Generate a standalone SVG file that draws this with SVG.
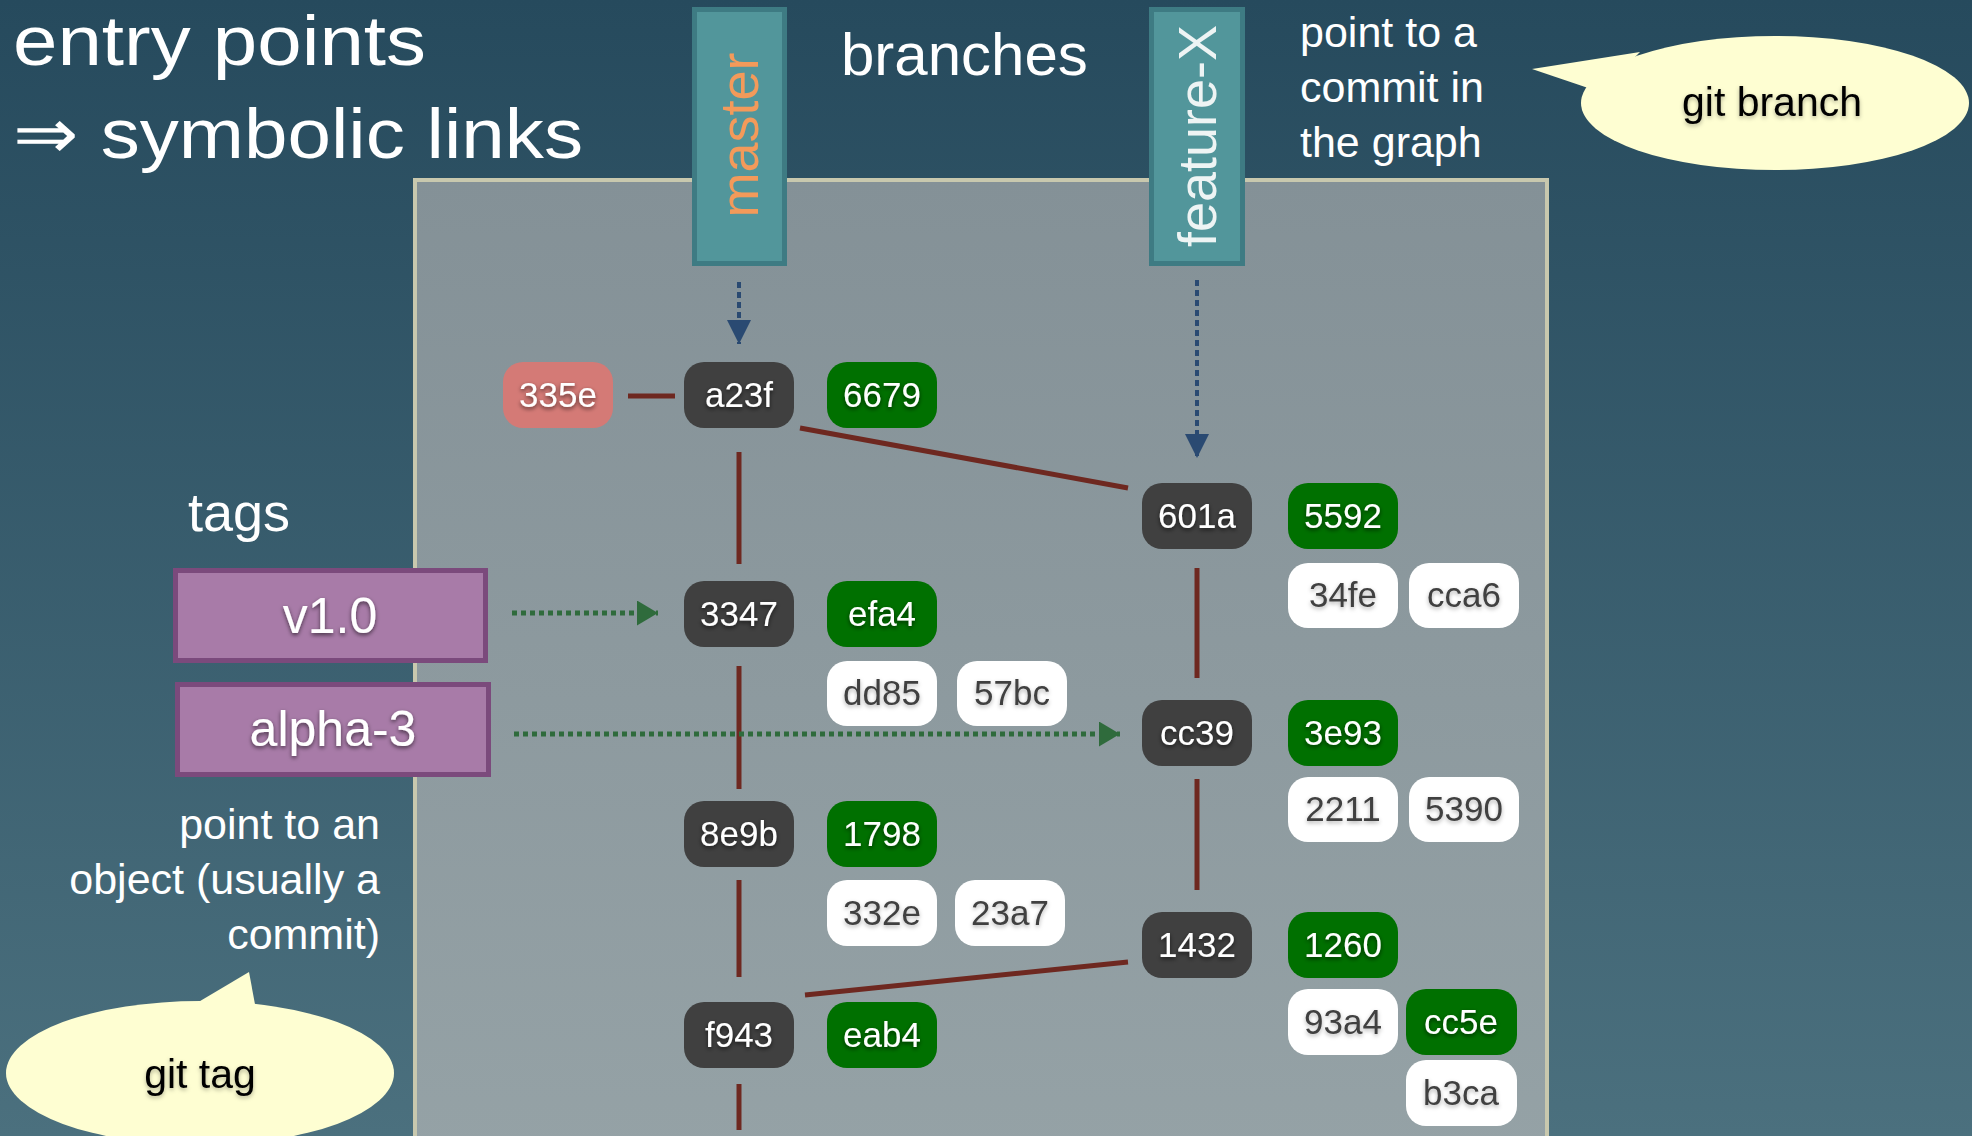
<svg xmlns="http://www.w3.org/2000/svg" width="1972" height="1136" viewBox="0 0 1972 1136">
<defs>
<linearGradient id="bg" x1="0" y1="0" x2="0" y2="1">
<stop offset="0" stop-color="#264a5d"/>
<stop offset="1" stop-color="#4b707e"/>
</linearGradient>
<linearGradient id="pg" x1="0" y1="0" x2="0" y2="1">
<stop offset="0" stop-color="#849197"/>
<stop offset="1" stop-color="#95a2a6"/>
</linearGradient>
<filter id="sh" x="-20%" y="-30%" width="140%" height="170%">
<feDropShadow dx="0" dy="2" stdDeviation="2" flood-color="#000" flood-opacity="0.6"/>
</filter>
<filter id="shl" x="-20%" y="-30%" width="140%" height="170%">
<feDropShadow dx="0" dy="2" stdDeviation="2" flood-color="#000" flood-opacity="0.3"/>
</filter>
<marker id="ab" markerWidth="6" markerHeight="6" refX="6" refY="3" orient="auto" markerUnits="strokeWidth">
<path d="M0,0 L6,3 L0,6 Z" fill="#2a4a72"/>
</marker>
<marker id="ag" markerWidth="5" markerHeight="5" refX="4.2" refY="2.5" orient="auto" markerUnits="strokeWidth">
<path d="M0,0 L4.2,2.5 L0,5 Z" fill="#2f6b3c"/>
</marker>
</defs>
<style>
.t{font-family:"Liberation Sans",Arial,sans-serif;}
.title{font-size:70px;fill:#ffffff;}
.lbl{font-size:43px;fill:#ffffff;}
.c rect{fill:#404040;}
.g rect{fill:#007000;}
.w rect{fill:#ffffff;}
.p rect{fill:#d47a76;}
.n text{font-family:"Liberation Sans",Arial,sans-serif;font-size:35px;text-anchor:middle;fill:#ffffff;filter:url(#sh);}
.w text{fill:#404040;filter:url(#shl);}
.edge{stroke:#6e2820;stroke-width:5;fill:none;}
.bdot{stroke:#2a4a72;stroke-width:4;stroke-dasharray:6 4;fill:none;}
.gdot{stroke:#2f6b3c;stroke-width:5;stroke-dasharray:5 4;fill:none;}
.br rect{fill:#52969b;stroke:#3e7b83;stroke-width:5;}
.tag rect{fill:#a87ba8;stroke:#7b4a7c;stroke-width:5;}
.tag text{font-family:"Liberation Sans",Arial,sans-serif;font-size:50px;fill:#ffffff;text-anchor:middle;filter:url(#sh);}
.bub path,.bub ellipse{fill:#fefed2;}
.bub text{font-family:"Liberation Sans",Arial,sans-serif;font-size:41px;fill:#000;text-anchor:middle;filter:url(#shl);}
</style>
<rect x="0" y="0" width="1972" height="1136" fill="url(#bg)"/>
<rect id="panel" x="415" y="180" width="1132" height="980" fill="url(#pg)" stroke="#c8c8ae" stroke-width="4"/>

<g id="titles" class="t">
<text class="title" x="13" y="65" textLength="413" lengthAdjust="spacingAndGlyphs">entry points</text>
<text class="title" x="13" y="158" textLength="570" lengthAdjust="spacingAndGlyphs">⇒ symbolic links</text>
<text x="841" y="75" font-size="60" fill="#ffffff">branches</text>
<text x="188" y="531" font-size="54" fill="#ffffff">tags</text>
<text class="lbl" x="1300" y="47">point to a</text>
<text class="lbl" x="1300" y="102">commit in</text>
<text class="lbl" x="1300" y="157">the graph</text>
<text class="lbl" x="380" y="839" text-anchor="end">point to an</text>
<text class="lbl" x="380" y="894" text-anchor="end">object (usually a</text>
<text class="lbl" x="380" y="949" text-anchor="end">commit)</text>
</g>

<g id="branch-master" class="br">
<rect x="694.5" y="9.5" width="90" height="254"/>
<text class="t" transform="translate(758,135) rotate(-90)" font-size="54" fill="#f39a5a" text-anchor="middle">master</text>
</g>
<g id="branch-feature-X" class="br">
<rect x="1151.5" y="9.5" width="91" height="254"/>
<text class="t" transform="translate(1216,136) rotate(-90)" font-size="54" fill="#eef4f4" text-anchor="middle">feature-X</text>
</g>

<g id="tag-v1.0" class="tag">
<rect x="175.5" y="570.5" width="310" height="90"/>
<text x="330" y="633">v1.0</text>
</g>
<g id="tag-alpha-3" class="tag">
<rect x="177.5" y="684.5" width="311" height="90"/>
<text x="333" y="746">alpha-3</text>
</g>

<g id="connectors">
<line class="edge" x1="628" y1="396" x2="675" y2="396"/>
<line class="edge" x1="800" y1="428" x2="1128" y2="488"/>
<line class="edge" x1="739" y1="452" x2="739" y2="564"/>
<line class="edge" x1="739" y1="666" x2="739" y2="789"/>
<line class="edge" x1="739" y1="880" x2="739" y2="977"/>
<line class="edge" x1="739" y1="1084" x2="739" y2="1130"/>
<line class="edge" x1="805" y1="995" x2="1128" y2="962"/>
<line class="edge" x1="1197" y1="568" x2="1197" y2="678"/>
<line class="edge" x1="1197" y1="779" x2="1197" y2="890"/>
<line class="bdot" x1="739" y1="282" x2="739" y2="344" marker-end="url(#ab)"/>
<line class="bdot" x1="1197" y1="280" x2="1197" y2="458" marker-end="url(#ab)"/>
<line class="gdot" x1="512" y1="613" x2="658" y2="613" marker-end="url(#ag)"/>
<line class="gdot" x1="514" y1="734" x2="1120" y2="734" marker-end="url(#ag)"/>
</g>

<g id="n-335e" class="n p"><rect x="503" y="362" width="110" height="66" rx="20"/><text x="558" y="407">335e</text></g>
<g id="n-a23f" class="n c"><rect x="684" y="362" width="110" height="66" rx="20"/><text x="739" y="407">a23f</text></g>
<g id="n-6679" class="n g"><rect x="827" y="362" width="110" height="66" rx="20"/><text x="882" y="407">6679</text></g>

<g id="n-3347" class="n c"><rect x="684" y="581" width="110" height="66" rx="20"/><text x="739" y="626">3347</text></g>
<g id="n-efa4" class="n g"><rect x="827" y="581" width="110" height="66" rx="20"/><text x="882" y="626">efa4</text></g>
<g id="n-dd85" class="n w"><rect x="827" y="661" width="110" height="65" rx="20"/><text x="882" y="705">dd85</text></g>
<g id="n-57bc" class="n w"><rect x="957" y="661" width="110" height="65" rx="20"/><text x="1012" y="705">57bc</text></g>

<g id="n-8e9b" class="n c"><rect x="684" y="801" width="110" height="66" rx="20"/><text x="739" y="846">8e9b</text></g>
<g id="n-1798" class="n g"><rect x="827" y="801" width="110" height="66" rx="20"/><text x="882" y="846">1798</text></g>
<g id="n-332e" class="n w"><rect x="827" y="880" width="110" height="66" rx="20"/><text x="882" y="925">332e</text></g>
<g id="n-23a7" class="n w"><rect x="955" y="880" width="110" height="66" rx="20"/><text x="1010" y="925">23a7</text></g>

<g id="n-f943" class="n c"><rect x="684" y="1002" width="110" height="66" rx="20"/><text x="739" y="1047">f943</text></g>
<g id="n-eab4" class="n g"><rect x="827" y="1002" width="110" height="66" rx="20"/><text x="882" y="1047">eab4</text></g>

<g id="n-601a" class="n c"><rect x="1142" y="483" width="110" height="66" rx="20"/><text x="1197" y="528">601a</text></g>
<g id="n-5592" class="n g"><rect x="1288" y="483" width="110" height="66" rx="20"/><text x="1343" y="528">5592</text></g>
<g id="n-34fe" class="n w"><rect x="1288" y="563" width="110" height="65" rx="20"/><text x="1343" y="607">34fe</text></g>
<g id="n-cca6" class="n w"><rect x="1409" y="563" width="110" height="65" rx="20"/><text x="1464" y="607">cca6</text></g>

<g id="n-cc39" class="n c"><rect x="1142" y="700" width="110" height="66" rx="20"/><text x="1197" y="745">cc39</text></g>
<g id="n-3e93" class="n g"><rect x="1288" y="700" width="110" height="66" rx="20"/><text x="1343" y="745">3e93</text></g>
<g id="n-2211" class="n w"><rect x="1288" y="777" width="110" height="65" rx="20"/><text x="1343" y="821">2211</text></g>
<g id="n-5390" class="n w"><rect x="1409" y="777" width="110" height="65" rx="20"/><text x="1464" y="821">5390</text></g>

<g id="n-1432" class="n c"><rect x="1142" y="912" width="110" height="66" rx="20"/><text x="1197" y="957">1432</text></g>
<g id="n-1260" class="n g"><rect x="1288" y="912" width="110" height="66" rx="20"/><text x="1343" y="957">1260</text></g>
<g id="n-93a4" class="n w"><rect x="1288" y="989" width="110" height="66" rx="20"/><text x="1343" y="1034">93a4</text></g>
<g id="n-cc5e" class="n g"><rect x="1406" y="989" width="111" height="66" rx="20"/><text x="1461" y="1034">cc5e</text></g>
<g id="n-b3ca" class="n w"><rect x="1406" y="1060" width="111" height="66" rx="20"/><text x="1461" y="1105">b3ca</text></g>

<g id="bubble-git-branch" class="bub">
<path d="M1532,69 L1640,52 L1600,92 Z"/>
<ellipse cx="1775" cy="103" rx="194" ry="67"/>
<text x="1772" y="116">git branch</text>
</g>
<g id="bubble-git-tag" class="bub">
<path d="M185,1010 L249,972 L257,1015 Z"/>
<ellipse cx="200" cy="1073" rx="194" ry="72"/>
<text x="200" y="1088">git tag</text>
</g>
</svg>
